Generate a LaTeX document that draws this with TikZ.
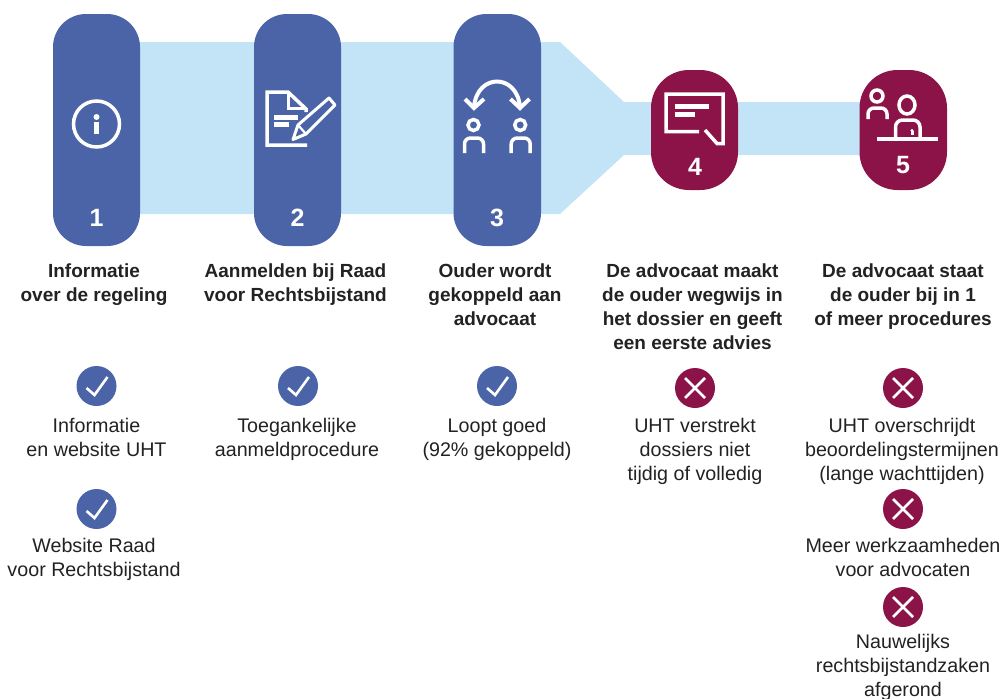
\documentclass[tikz,border=0pt]{standalone}
\usepackage{fontspec}
\setmainfont{Liberation Sans}
\definecolor{pillblue}{HTML}{4A64A7}
\definecolor{band}{HTML}{C3E4F7}
\definecolor{maroon}{HTML}{8C1348}
\definecolor{ink}{HTML}{222222}
\tikzset{
  tall/.style={fill=pillblue,rounded corners=33pt},
  short/.style={fill=maroon,rounded corners=38pt},
  num/.style={text=white,font=\fontsize{25}{25}\selectfont\bfseries,inner sep=0pt},
  head/.style={text=ink,font=\fontsize{19}{24}\selectfont\bfseries,align=center,anchor=north,inner sep=0pt},
  body/.style={text=ink,font=\fontsize{19.7}{24}\selectfont,align=center,anchor=north,inner sep=0pt},
  ico/.style={draw=white,line width=3.5pt,fill=none},
  okdot/.style={circle,fill=pillblue,minimum size=40pt,inner sep=0pt},
  nodot/.style={circle,fill=maroon,minimum size=40pt,inner sep=0pt},
  tick/.style={draw=white,line width=2.6pt},
}
\newcommand{\okmark}[2]{\node[okdot] (#1) at #2 {};
  \draw[tick] ([shift={(-10,2)}]#1.center) -- ([shift={(-2,9)}]#1.center) -- ([shift={(11,-9)}]#1.center);}
\newcommand{\nomark}[2]{\node[nodot] (#1) at #2 {};
  \draw[tick] ([shift={(-10,-10)}]#1.center) -- ([shift={(10,10)}]#1.center);
  \draw[tick] ([shift={(-10,10)}]#1.center) -- ([shift={(10,-10)}]#1.center);}
\begin{document}
\begin{tikzpicture}[x=1pt,y=-1pt]
\useasboundingbox (0,0) rectangle (1005,699);
% band
\fill[band] (100,42) -- (560,42) -- (624,102) -- (900,102) -- (900,155) -- (624,155) -- (560,214) -- (100,214) -- cycle;
% pills
\fill[tall] (53,14) rectangle (140,246);
\fill[tall] (254,14) rectangle (341,246);
\fill[tall] (453.5,14) rectangle (541,246);
\fill[short] (651,70) rectangle (738,190);
\fill[short] (859.5,70) rectangle (947,190);
% numbers
\node[num] (n1) at (96.5,218) {1};
\node[num] (n2) at (297.5,218) {2};
\node[num] (n3) at (497,218) {3};
\node[num] (n4) at (695,167) {4};
\node[num] (n5) at (903,165) {5};
% icon 1
\draw[ico] (96.5,124) circle (23);
\fill[white] (96.5,117) circle (3);
\fill[white] (94,122) rectangle (99,134);
% icon 2
\draw[ico] (307,145) -- (267,145) -- (267,92) -- (288,92) -- (306,109) -- (306,112);
\draw[ico,line width=3pt] (288,92) -- (288,108) -- (306,108);
\fill[white] (274,115) rectangle (298,120);
\fill[white] (274,122) rectangle (289,127);
\draw[ico,line width=3pt,line join=round] (293,139.5) -- (298,125) -- (329,98) -- (335,105) -- (306,134) -- cycle;
\draw[ico,line width=2.2pt] (298,125) -- (306,134);
% icon 3
\draw[ico,line width=4pt] (474,107) .. controls (477,73) and (517,73) .. (520,107);
\draw[ico,line width=4pt] (465,99) -- (474,108) -- (484,99);
\draw[ico,line width=4pt] (510.5,99) -- (520,108) -- (529.5,99);
\foreach \dx/\nm in {0/a,46.7/b}{
  \draw[ico] (473.5+\dx,125) circle (5.5);
  \draw[ico,rounded corners=6pt] (464.5+\dx,153) -- (464.5+\dx,138) -- (483.5+\dx,138) -- (483.5+\dx,153);
}
% icon 4
\draw[ico] (699,131.5) -- (666,131.5) -- (666,94) -- (723,94) -- (723,143.5) -- (717,143.5) -- (705,130);
\fill[white] (675,104) rectangle (709,109);
\fill[white] (675,112) rectangle (695,117);
% icon 5
\draw[ico] (877,96) circle (6);
\draw[ico,rounded corners=6pt] (868,119) -- (868,108) -- (887,108) -- (887,119);
\draw[ico] (907,105) ellipse (8 and 9);
\draw[ico,rounded corners=7pt] (895.5,138) -- (895.5,120) -- (920,120) -- (920,138);
\draw[ico] (877,139) -- (938,139);
\fill[white] (910.5,131) rectangle (913.5,135);
\fill[white] (912,130.5) circle (1.7);
% headings
\node[head] (h1) at (94,263.5) {Informatie\\over de regeling};
\node[head] (h2) at (295.5,263.5) {Aanmelden bij Raad\\voor Rechtsbijstand};
\node[head] (h3) at (495,263.5) {Ouder wordt\\gekoppeld aan\\advocaat};
\node[head] (h4) at (692.5,263.5) {De advocaat maakt\\de ouder wegwijs in\\het dossier en geeft\\een eerste advies};
\node[head] (h5) at (903,263.5) {De advocaat staat\\de ouder bij in 1\\of meer procedures};
% marks
\okmark{c1}{(96.5,386)}
\okmark{c2}{(298,386)}
\okmark{c3}{(497,386)}
\okmark{c4}{(96.5,509)}
\nomark{x1}{(695,388)}
\nomark{x2}{(903,388)}
\nomark{x3}{(903,509)}
\nomark{x4}{(903,607)}
% body
\node[body] (b1) at (96.5,418) {Informatie\\en website UHT};
\node[body] (b2) at (297,418) {Toegankelijke\\aanmeldprocedure};
\node[body] (b3) at (497,418) {Loopt goed\\(92\% gekoppeld)};
\node[body] (b4) at (695,418) {UHT verstrekt\\dossiers niet\\tijdig of volledig};
\node[body] (b5) at (902,418) {UHT overschrijdt\\beoordelingstermijnen\\(lange wachttijden)};
\node[body] (b6) at (94,538) {Website Raad\\voor Rechtsbijstand};
\node[body] (b7) at (903,538) {Meer werkzaamheden\\voor advocaten};
\node[body] (b8) at (903,634) {Nauwelijks\\rechtsbijstandzaken\\afgerond};
\end{tikzpicture}
\end{document}
